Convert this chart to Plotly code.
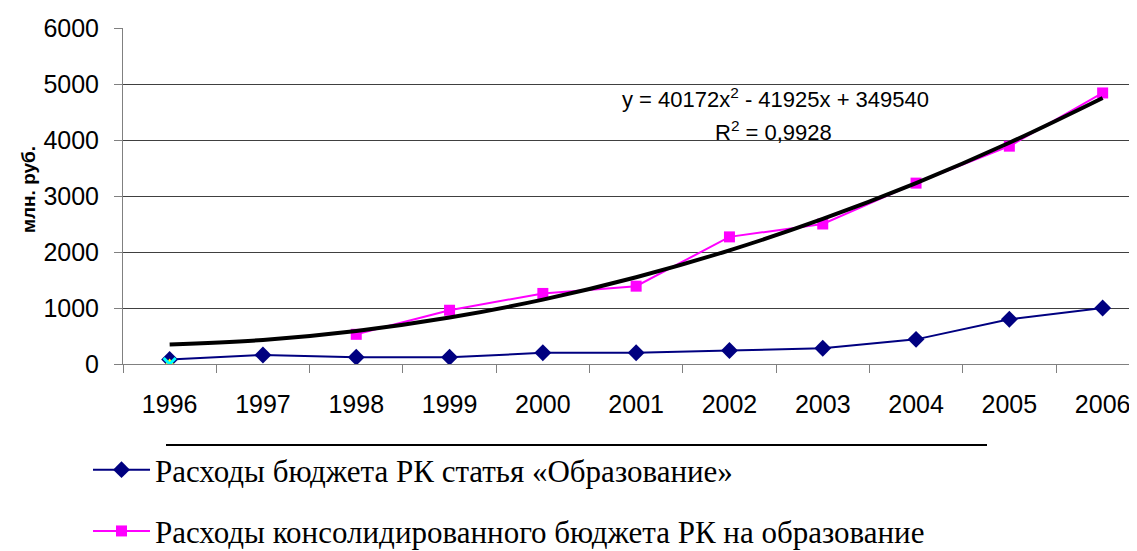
import plotly.graph_objects as go

years = ["1996", "1997", "1998", "1999", "2000", "2001", "2002", "2003", "2004", "2005", "2006"]
budget_rk = [80, 160, 120, 120, 200, 200, 240, 280, 440, 800, 1000]
consolidated = [None, None, 530, 960, 1260, 1390, 2270, 2500, 3230, 3890, 4840]
trend = [350, 430, 590, 830, 1150, 1550, 2030, 2590, 3230, 3950, 4750]
extra_a = [0]  # cyan x marker at 1996
extra_b = [0]  # yellow triangle at 1996
y_ticks = [0, 1000, 2000, 3000, 4000, 5000, 6000]

name_rk = "Расходы бюджета РК статья «Образование»"
name_cons = "Расходы консолидированного бюджета РК на образование"

xs = list(range(len(years)))

# page body has an 8px margin; figure coordinates = screen - 8
OFF = 8
W, H = 1137, 600
L, T = 115, 20
plot_h = 336
B = H - T - plot_h
plot_w = W - L
cat_w = 93.3
AX_X = L + OFF          # screen x of y axis
AX_Y = T + plot_h + OFF  # screen y of x axis


def px_x(s):
    return (s - AX_X) / plot_w


def px_y(s):
    return (AX_Y - s) / plot_h


fig = go.Figure()

fig.add_trace(go.Scatter(
    x=xs, y=budget_rk, mode="lines+markers", name=name_rk,
    line=dict(color="#000080", width=2),
    marker=dict(symbol="diamond", size=13, color="#000080"),
    legendgroup="a",
))
fig.add_trace(go.Scatter(
    x=xs, y=consolidated, mode="lines+markers", name=name_cons,
    line=dict(color="#FF00FF", width=2),
    marker=dict(symbol="square", size=11, color="#FF00FF"),
    legendgroup="b",
))
fig.add_trace(go.Scatter(
    x=xs, y=trend, mode="lines", line=dict(color="black", width=4, shape="spline"),
    showlegend=False, hoverinfo="skip",
))
fig.add_trace(go.Scatter(
    x=xs[:1], y=extra_b, mode="markers",
    marker=dict(symbol="triangle-up", size=11, color="#FFFF00"),
    showlegend=False,
))
fig.add_trace(go.Scatter(
    x=xs[:1], y=extra_a, mode="markers",
    marker=dict(symbol="x-thin", size=12, line=dict(color="#00FFFF", width=3)),
    showlegend=False,
))

fig.update_layout(
    width=W, height=H,
    margin=dict(l=L, r=0, t=T, b=B),
    paper_bgcolor="white", plot_bgcolor="white",
    font=dict(family="Liberation Sans, Arial", color="black"),
    xaxis=dict(
        range=[-0.5, -0.5 + plot_w / cat_w],
        tickmode="array", tickvals=xs, ticktext=years,
        ticks="", ticklabelstandoff=18,
        tickfont=dict(size=25, family="Liberation Sans, Arial"),
        showgrid=False, zeroline=False,
        showline=True, linecolor="#808080", linewidth=1,
        minor=dict(tick0=0.5, dtick=1, ticks="outside", ticklen=8,
                   tickcolor="#808080", tickwidth=1, showgrid=False),
    ),
    yaxis=dict(
        range=[0, 6000], tickmode="array", tickvals=y_ticks,
        ticks="outside", ticklen=8, tickcolor="#808080",
        ticklabelstandoff=10,
        tickfont=dict(size=25, family="Liberation Sans, Arial"),
        showgrid=True, gridcolor="#404040", gridwidth=1,
        zeroline=False, showline=True, linecolor="#808080", linewidth=1,
    ),
    legend=dict(
        x=px_x(88), y=px_y(443), xanchor="left", yanchor="top",
        font=dict(size=31, family="Liberation Serif, Times New Roman", color="black"),
        traceorder="grouped", tracegroupgap=18, itemwidth=57,
        bgcolor="rgba(0,0,0,0)",
    ),
    showlegend=True,
)

fig.add_annotation(
    text="<b>млн. руб.</b>", textangle=-90, xref="paper", yref="paper",
    x=px_x(29), y=px_y(190), xanchor="center", yanchor="middle", showarrow=False,
    font=dict(size=19, family="Liberation Sans, Arial", color="black"),
)
fig.add_annotation(
    text="y = 40172x<sup>2</sup> - 41925x + 349540", xref="paper", yref="paper",
    x=px_x(775), y=px_y(98), xanchor="center", yanchor="middle", showarrow=False,
    font=dict(size=22, family="Liberation Sans, Arial", color="black"),
)
fig.add_annotation(
    text="R<sup>2</sup> = 0,9928", xref="paper", yref="paper",
    x=px_x(773), y=px_y(131), xanchor="center", yanchor="middle", showarrow=False,
    font=dict(size=22, family="Liberation Sans, Arial", color="black"),
)
fig.add_shape(
    type="line", xref="paper", yref="paper",
    x0=px_x(166), x1=px_x(987), y0=px_y(445), y1=px_y(445),
    line=dict(color="black", width=2),
)

fig.write_html("out.html")
